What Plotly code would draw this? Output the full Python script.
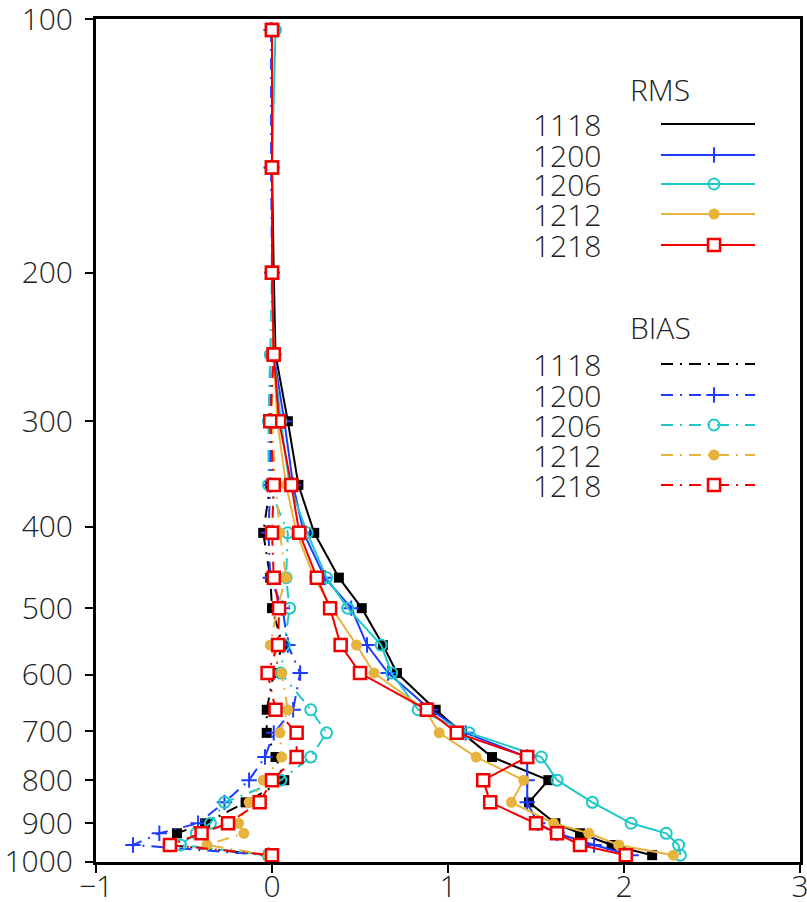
import plotly.graph_objects as go

# Pressure levels (hPa)
levels = [103, 150, 200, 250, 300, 357, 407, 460, 500, 553, 597, 660, 703, 751, 800, 850, 900, 925, 955, 982]

# RMS profiles
rms_1118 = [0.0, 0.0, 0.01, 0.02, 0.09, 0.15, 0.24, 0.38, 0.51, 0.63, 0.71, 0.93, 1.08, 1.25, 1.57, 1.46, 1.61, 1.75, 1.93, 2.16]
rms_1200 = [0.0, 0.0, 0.0, 0.01, 0.07, 0.12, 0.18, 0.30, 0.45, 0.54, 0.66, 0.90, 1.10, 1.45, 1.45, 1.45, 1.51, 1.62, 1.83, 2.04]
rms_1206 = [0.02, 0.0, 0.0, 0.01, 0.05, 0.10, 0.20, 0.31, 0.43, 0.62, 0.68, 0.83, 1.12, 1.53, 1.62, 1.82, 2.04, 2.24, 2.31, 2.32]
rms_1212 = [0.0, 0.0, 0.0, 0.01, 0.03, 0.08, 0.14, 0.24, 0.34, 0.48, 0.58, 0.87, 0.95, 1.16, 1.43, 1.36, 1.60, 1.80, 1.97, 2.28]
rms_1218 = [0.0, 0.0, 0.0, 0.01, 0.04, 0.11, 0.155, 0.255, 0.33, 0.39, 0.50, 0.88, 1.05, 1.45, 1.20, 1.24, 1.50, 1.62, 1.75, 2.01]

# BIAS profiles
bias_1118 = [0.0, 0.0, 0.0, 0.0, -0.005, -0.01, -0.05, -0.01, 0.0, 0.06, 0.01, -0.03, -0.03, 0.02, 0.07, -0.15, -0.38, -0.54, -0.59, -0.02]
bias_1200 = [-0.005, -0.005, 0.0, 0.0, -0.01, -0.01, -0.02, -0.01, 0.06, 0.09, 0.16, 0.12, 0.01, -0.04, -0.13, -0.27, -0.42, -0.64, -0.79, -0.02]
bias_1206 = [0.0, 0.0, 0.0, -0.01, -0.02, -0.02, 0.09, 0.08, 0.10, 0.07, 0.05, 0.22, 0.31, 0.22, 0.05, -0.27, -0.35, -0.43, -0.52, -0.02]
bias_1212 = [0.0, 0.0, 0.0, 0.0, 0.0, 0.02, 0.045, 0.08, 0.03, -0.01, 0.055, 0.09, 0.045, 0.055, -0.05, -0.13, -0.19, -0.16, -0.37, -0.02]
bias_1218 = [0.0, 0.0, 0.0, 0.01, -0.01, 0.01, 0.0, 0.01, 0.04, 0.035, -0.025, 0.02, 0.14, 0.14, 0.0, -0.07, -0.25, -0.40, -0.58, 0.0]

names = ["1118", "1200", "1206", "1212", "1218"]
rms_series = [rms_1118, rms_1200, rms_1206, rms_1212, rms_1218]
bias_series = [bias_1118, bias_1200, bias_1206, bias_1212, bias_1218]

y_ticks = [100, 200, 300, 400, 500, 600, 700, 800, 900, 1000]
x_ticks = [-1, 0, 1, 2, 3]

colors = ["#000000", "#1e3cff", "#1ec8c8", "#e6b43c", "#f00000"]
markers = [
    dict(symbol="square", size=10, color="#000000"),
    dict(symbol="cross-thin", size=11, color="#1e3cff", line=dict(width=2, color="#1e3cff")),
    dict(symbol="circle-open", size=11, color="#1ec8c8", line=dict(width=2, color="#1ec8c8")),
    dict(symbol="circle", size=11, color="#e6b43c"),
    dict(symbol="square", size=12, color="white", line=dict(width=2.5, color="#f00000")),
]
legend_markers = [None] + markers[1:]
BIAS_DASH = "12px,7px,2px,7px"

FONT = dict(family="Open Sans, DejaVu Sans, sans-serif", size=30, color="#222222", weight=300)

fig = go.Figure()
for i in range(5):
    fig.add_trace(go.Scatter(x=rms_series[i], y=levels, mode="lines+markers",
                             line=dict(color=colors[i], width=2), marker=markers[i],
                             showlegend=False))
    fig.add_trace(go.Scatter(x=bias_series[i], y=levels, mode="lines+markers",
                             line=dict(color=colors[i], width=2, dash=BIAS_DASH), marker=markers[i],
                             showlegend=False))

# ---- manual legend drawn on an overlay pixel-like axis ----
L, T, W, H = 96, 19, 704, 843
def px(x):
    return x - L
def py(y):
    return y - T

rms_rows = [124, 155, 184, 214, 245]
bias_rows = [364, 395, 425, 455, 485]
line_x0, line_x1, mark_x, label_x = 661, 755, 714, 531

annotations = []
for title, ty, rows, dash in [("RMS", 89, rms_rows, "solid"), ("BIAS", 327, bias_rows, BIAS_DASH)]:
    annotations.append(dict(x=px(660), y=py(ty), xref="x2", yref="y2", text=title,
                            showarrow=False, xanchor="center", yanchor="middle", font=FONT))
    for i, ry in enumerate(rows):
        annotations.append(dict(x=px(label_x), y=py(ry), xref="x2", yref="y2", text=names[i],
                                showarrow=False, xanchor="left", yanchor="middle", font=FONT))
        fig.add_trace(go.Scatter(x=[px(line_x0), px(line_x1)], y=[py(ry), py(ry)], mode="lines",
                                 line=dict(color=colors[i], width=2, dash=dash),
                                 xaxis="x2", yaxis="y2", showlegend=False, hoverinfo="skip"))
        if legend_markers[i] is not None:
            fig.add_trace(go.Scatter(x=[px(mark_x)], y=[py(ry)], mode="markers",
                                     marker=legend_markers[i], xaxis="x2", yaxis="y2",
                                     showlegend=False, hoverinfo="skip"))

fig.update_layout(
    width=807, height=902,
    margin=dict(l=L, r=807 - L - W, t=T, b=902 - T - H, autoexpand=False),
    paper_bgcolor="white", plot_bgcolor="white",
    showlegend=False,
    font=FONT,
    annotations=annotations,
    xaxis=dict(range=[-1, 3], tickvals=x_ticks, ticktext=[str(v) if v >= 0 else "\u2212" + str(-v) for v in x_ticks],
               showgrid=False, zeroline=False, showline=True, linecolor="black", linewidth=3, mirror=True,
               ticks="outside", ticklen=8, tickwidth=2, tickcolor="black", tickfont=FONT,
               ticklabelstandoff=-12, automargin=False, ticklabeloverflow="allow"),
    yaxis=dict(type="log", range=[3.0002, 1.9998], tickvals=y_ticks, ticktext=[str(v) for v in y_ticks],
               showgrid=False, zeroline=False, showline=True, linecolor="black", linewidth=3, mirror=True,
               ticks="outside", ticklen=8, tickwidth=2, tickcolor="black", tickfont=FONT,
               ticklabelstandoff=6, automargin=False, ticklabeloverflow="allow"),
    xaxis2=dict(overlaying="x", range=[0, W], visible=False, fixedrange=True),
    yaxis2=dict(overlaying="y", range=[H, 0], visible=False, fixedrange=True),
)

fig.write_html("out.html")
